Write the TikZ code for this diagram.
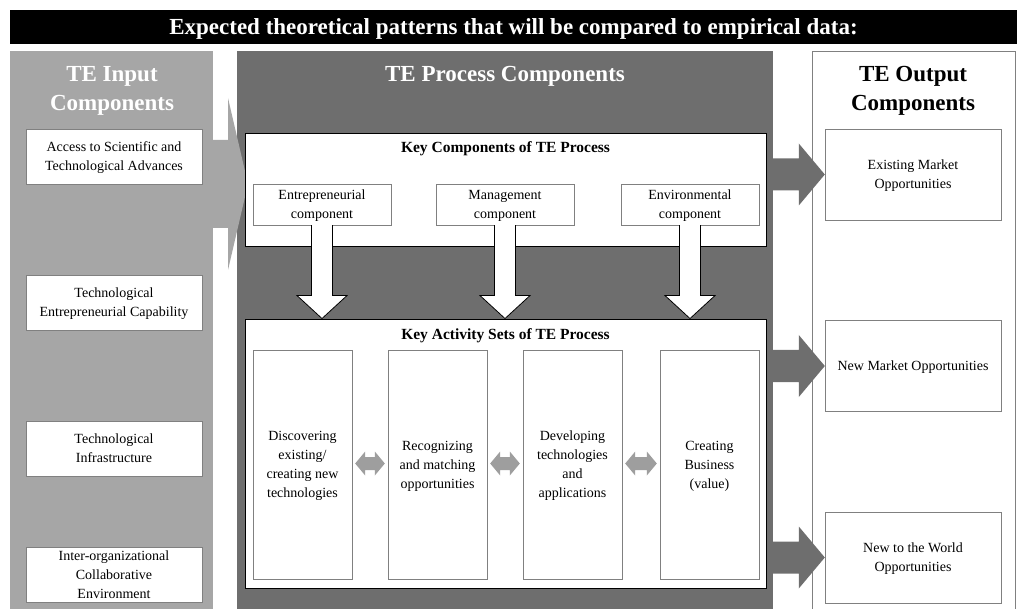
\documentclass[tikz,border=0pt]{standalone}
\usepackage{fontspec}
\setmainfont{Liberation Serif}
\usetikzlibrary{shapes,arrows,calc}
\definecolor{ingray}{RGB}{166,166,166}
\definecolor{procgray}{RGB}{110,110,110}
\definecolor{linkgray}{RGB}{158,158,158}
\definecolor{boxline}{RGB}{128,128,128}
% white arrow from a component box down to the activity box
\newcommand{\feedarrow}[2]{
  \draw[fill=white, line width=0.8pt] let \p1=(#1.south), \p2=(#2.north) in
    ({\x1-10.5pt},\y1) -- ({\x1-10.5pt},{\y2+23pt}) -- ({\x1-25pt},{\y2+23pt})
    -- (\x1,\y2) -- ({\x1+25pt},{\y2+23pt}) -- ({\x1+10.5pt},{\y2+23pt})
    -- ({\x1+10.5pt},\y1);
}
% dark arrow from the process panel to an output box
\newcommand{\outarrow}[2]{
  \fill[procgray] let \p1=(#1.east), \p2=(#2.west) in
    (\x1,{\y2+16pt}) -- ({\x2-26pt},{\y2+16pt}) -- ({\x2-26pt},{\y2+31pt})
    -- (\x2,\y2) -- ({\x2-26pt},{\y2-31pt}) -- ({\x2-26pt},{\y2-16pt})
    -- (\x1,{\y2-16pt}) -- cycle;
}
% two-headed arrow between activity boxes
\newcommand{\linkarrow}[2]{
  \fill[linkgray] let \p1=(#1.east), \p2=(#2.west) in
    ({\x1+3pt},{\y1+1pt}) -- ({\x1+13pt},{\y1+13pt}) -- ({\x1+13pt},{\y1+7.5pt})
    -- ({\x2-13pt},{\y1+7.5pt}) -- ({\x2-13pt},{\y1+13pt}) -- ({\x2-3pt},{\y1+1pt})
    -- ({\x2-13pt},{\y1-11pt}) -- ({\x2-13pt},{\y1-5.5pt}) -- ({\x1+13pt},{\y1-5.5pt})
    -- ({\x1+13pt},{\y1-11pt}) -- cycle;
}
\tikzset{
  boxtext/.style  = {font=\fontsize{14}{19}\selectfont, align=center, inner sep=0pt,
                     text depth=-2pt},
  paneltitle/.style = {font=\fontsize{23}{29}\selectfont\bfseries, align=center},
  panel/.style    = {rectangle, inner sep=0pt, minimum width=203pt, minimum height=560pt},
  inbox/.style    = {boxtext, draw=boxline, fill=white, minimum width=176pt, minimum height=55pt},
  outbox/.style   = {boxtext, draw=boxline, fill=white, minimum width=176pt, minimum height=91pt},
  compbox/.style  = {boxtext, draw=boxline, fill=white, minimum width=138pt, minimum height=41pt},
  actbox/.style   = {boxtext, draw=boxline, fill=white, minimum width=99pt, minimum height=229pt},
  keybox/.style   = {draw=black, line width=0.9pt, fill=white, minimum width=521pt, inner sep=0pt},
  keytitle/.style = {font=\fontsize{15.5}{18}\selectfont\bfseries}
}

\begin{document}
\begin{tikzpicture}[x=1pt, y=-1pt]
  \useasboundingbox (0,0) rectangle (1017,609);
  % heading
  \node[fill=black, text=white, minimum width=1007pt, minimum height=34pt, inner sep=0pt,
        text height=21pt, text depth=5pt, font=\fontsize{23}{26}\selectfont\bfseries] (head) at (513.5,27)
    {Expected theoretical patterns that will be compared to empirical data:};

  % three panels
  \node[panel, fill=ingray] (inpanel) at (111.5,331.5) {};
  \node[panel, fill=procgray, minimum width=536pt] (procpanel) at (505,331.5) {};
  \node[panel, draw=boxline, fill=white] (outpanel) at (913.5,331.5) {};
  \node[paneltitle, text=white] (intitle) at (112,91) {TE Input\\Components};
  \node[paneltitle, text=white] (proctitle) at (505,76) {TE Process Components};
  \node[paneltitle] (outtitle) at (913,91) {TE Output\\Components};

  % input arrow
  \coordinate (intip) at (248,184);
  \fill[ingray] let \p1=(inpanel.east), \p2=(intip) in
    (\x1,{\y2+44pt}) -- ({\x2-20pt},{\y2+44pt}) -- ({\x2-20pt},{\y2+86pt})
    -- (\x2,\y2) -- ({\x2-20pt},{\y2-86pt}) -- ({\x2-20pt},{\y2-44pt})
    -- (\x1,{\y2-44pt}) -- cycle;

  % input components
  \node[inbox] (access) at (114,156.5) {Access to Scientific and\\Technological Advances};
  \node[inbox] (capab) at (114,302.5) {Technological\\Entrepreneurial Capability};
  \node[inbox] (infra) at (114,448.5) {Technological\\Infrastructure};
  \node[inbox] (collab) at (114,575) {Inter-organizational\\Collaborative\\Environment};

  % key components of the process
  \node[keybox, minimum height=113pt] (keycomp) at (505.5,189.5) {};
  \node[keytitle] (keycomptitle) at (505.5,149) {Key Components of TE Process};
  \node[compbox] (entre) at (322,204.5) {Entrepreneurial\\component};
  \node[compbox] (manage) at (505,204.5) {Management\\component};
  \node[compbox] (environ) at (690,204.5) {Environmental\\component};

  % key activity sets
  \node[keybox, minimum height=269pt] (keyact) at (505.5,453.5) {};
  \node[keytitle] (keyacttitle) at (505.5,336) {Key Activity Sets of TE Process};
  \node[actbox] (discover) at (302.5,464.5) {Discovering\\existing/\\creating new\\technologies};
  \node[actbox] (recog) at (437.5,464.5) {Recognizing\\and matching\\opportunities};
  \node[actbox] (develop) at (572.5,464.5) {Developing\\technologies\\and\\applications};
  \node[actbox] (create) at (709.5,464.5) {Creating\\Business\\(value)};

  \feedarrow{entre}{keyact}
  \feedarrow{manage}{keyact}
  \feedarrow{environ}{keyact}

  \linkarrow{discover}{recog}
  \linkarrow{recog}{develop}
  \linkarrow{develop}{create}

  % output components
  \node[outbox] (existing) at (913,174.5) {Existing Market\\Opportunities};
  \node[outbox] (newmarket) at (913,366) {New Market Opportunities};
  \node[outbox] (newworld) at (913,557.5) {New to the World\\Opportunities};

  \outarrow{procpanel}{existing}
  \outarrow{procpanel}{newmarket}
  \outarrow{procpanel}{newworld}
\end{tikzpicture}
\end{document}
